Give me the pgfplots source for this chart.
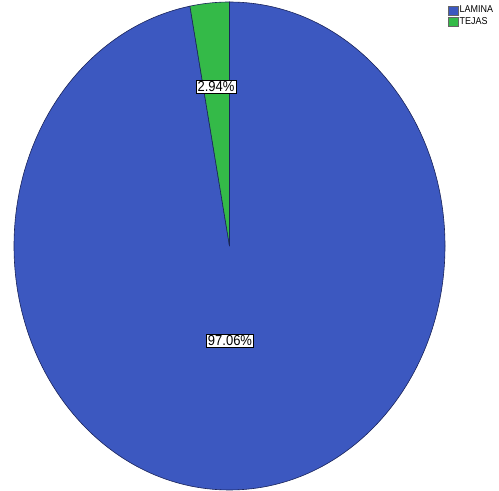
\documentclass[border=0pt]{standalone}
\usepackage{pgfplots}
\pgfplotsset{compat=1.18}
\usepackage{fontspec}
\setmainfont{Liberation Sans}
\newfontfamily\narrowfont[FakeStretch=0.9]{Liberation Sans}
\definecolor{pieblue}{RGB}{60,88,192}
\definecolor{piegreen}{RGB}{52,186,72}
\definecolor{edgecol}{RGB}{25,35,90}
\begin{document}
\begin{tikzpicture}
% data: percentages
\def\valLamina{97.06}
\def\valTejas{2.94}
\pgfmathsetmacro\angTejas{90+3.6*\valTejas}
\begin{axis}[width=499bp,height=491bp,scale only axis,
  xmin=0,xmax=499,ymin=0,ymax=491,hide axis,clip=false,
  legend style={at={(0.898,0.99)},anchor=north west,draw=none,fill=none,
    font=\narrowfont\fontsize{10}{10}\selectfont,inner sep=0pt,row sep=1pt,
    nodes={inner sep=1pt}},
  legend cell align=left]
\path (axis cs:0,0) rectangle (axis cs:499,491);
\addlegendimage{legend image code/.code={\fill[pieblue,draw=black!60] (0bp,-4.5bp) rectangle (10bp,4.5bp);}}
\addlegendentry{LAMINA}
\addlegendimage{legend image code/.code={\fill[piegreen,draw=black!60] (0bp,-4.5bp) rectangle (10bp,4.5bp);}}
\addlegendentry{TEJAS}
% slices
\filldraw[fill=pieblue,draw=edgecol,line width=0.6pt] (axis cs:229.5,245) -- (axis cs:229.5,489)
  arc[start angle=90,end angle=-270+3.6*\valTejas,x radius=215.5bp,y radius=244bp] -- cycle;
\filldraw[fill=piegreen,draw=edgecol,line width=0.6pt] (axis cs:229.5,245) -- (axis cs:229.5,489)
  arc[start angle=90,end angle=\angTejas,x radius=215.5bp,y radius=244bp] -- cycle;
\node[fill=white,draw=black,line width=0.4pt,inner sep=1.5pt,font=\narrowfont\fontsize{14.5}{14.5}\selectfont]
  at (axis cs:216,404) {\valTejas\%};
\node[fill=white,draw=black,line width=0.4pt,inner sep=1.5pt,font=\narrowfont\fontsize{14.5}{14.5}\selectfont]
  at (axis cs:230,150) {\valLamina\%};
\end{axis}
\end{tikzpicture}
\end{document}
